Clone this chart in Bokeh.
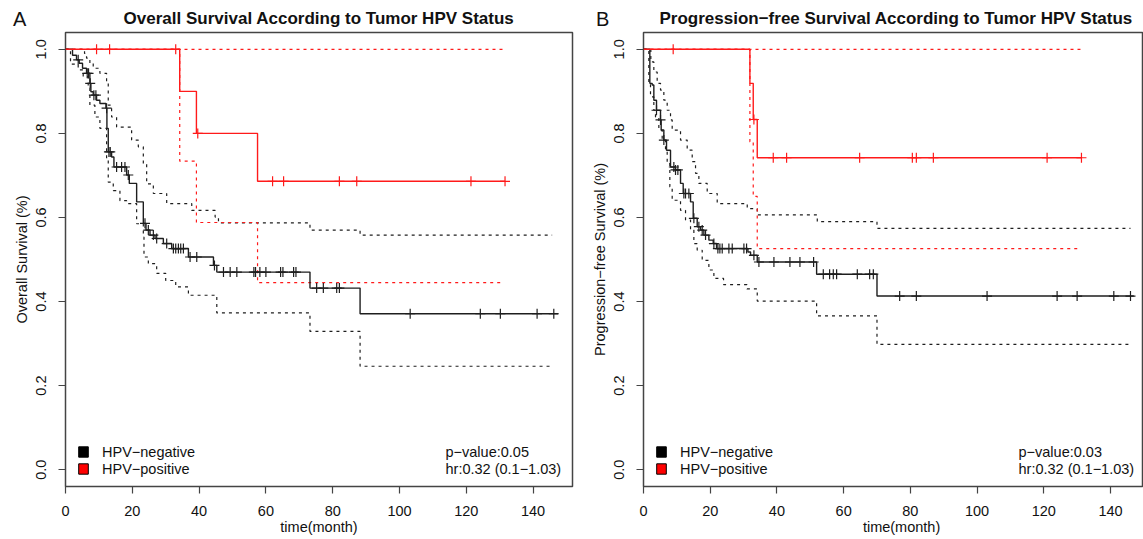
import numpy as np
from bokeh.plotting import figure
from bokeh.models import (Range1d, FixedTicker, PrintfTickFormatter, Label, Legend,
                          LegendItem, Title, Div)
from bokeh.layouts import row
from bokeh.embed import file_html
from bokeh.resources import INLINE

FONT = "Liberation Sans"

# ---------------- data: Panel A, overall survival ----------------
os_neg_time = [0, 2.1, 3.3, 4.1, 5.1, 6.3, 7.3, 7.6, 8.3, 9.3, 10.3, 12.1, 12.4, 12.8, 13.8, 14.5,
               18.3, 19.1, 21.3, 23.3, 24.1, 25.3, 26.8, 29.3, 31.8, 36.8, 44.3, 45.3, 73.2, 88.2, 147.5]
os_neg_surv = [1.0, 0.986, 0.975, 0.967, 0.955, 0.943, 0.919, 0.899, 0.891, 0.879, 0.871, 0.860, 0.812,
               0.756, 0.744, 0.720, 0.701, 0.681, 0.637, 0.586, 0.570, 0.558, 0.550, 0.538, 0.526, 0.506,
               0.486, 0.470, 0.432, 0.371, 0.371]
os_neg_censor = [3.8, 6.5, 6.9, 7.4, 8.5, 9.1, 12.3, 13.0, 13.4, 15.3, 16.8, 17.8, 18.8, 23.8, 24.8,
                 26.3, 27.3, 30.3, 32.3, 33.0, 33.8, 34.5, 35.3, 37.3, 39.3, 44.6, 47.3, 49.3, 51.3,
                 56.4, 56.9, 58.2, 60.0, 64.4, 65.1, 68.3, 69.0, 75.2, 77.2, 81.2, 82.0, 103.2, 124.2,
                 130.2, 141.2, 146.2]
os_neg_up_time = [0, 5.7, 6.3, 7.3, 8.3, 10.3, 12.3, 12.8, 13.8, 15.3, 19.8, 21.8, 23.3, 24.3, 26.3,
                  30.3, 37.8, 44.8, 45.8, 73.2, 88.2, 145.7]
os_neg_up = [1.0, 0.99, 0.979, 0.967, 0.955, 0.943, 0.919, 0.867, 0.839, 0.815, 0.784, 0.768, 0.728,
             0.680, 0.657, 0.633, 0.617, 0.601, 0.587, 0.570, 0.558, 0.558]
os_neg_lo_time = [0, 1.5, 3.8, 5.3, 6.8, 7.3, 8.8, 10.3, 12.3, 12.8, 14.3, 16.3, 18.3, 21.3, 23.3,
                  23.5, 24.8, 27.3, 30.0, 33.0, 36.8, 45.3, 73.2, 88.2, 145.7]
os_neg_lo = [1.0, 0.965, 0.951, 0.935, 0.907, 0.867, 0.839, 0.812, 0.736, 0.684, 0.664, 0.640, 0.633,
             0.585, 0.553, 0.506, 0.490, 0.467, 0.450, 0.435, 0.415, 0.373, 0.329, 0.246, 0.246]

os_pos_time = [0, 34.2, 39.2, 57.5, 131.6]
os_pos_surv = [1.0, 0.9, 0.8, 0.686, 0.686]
os_pos_censor = [9.3, 13.2, 33.0, 39.6, 62.0, 65.3, 82.0, 87.2, 121.4, 131.6]
os_pos_up_time = [0, 131.2]
os_pos_up = [1.0, 1.0]
os_pos_lo_time = [0, 34.2, 39.2, 57.5, 131.2]
os_pos_lo = [1.0, 0.734, 0.588, 0.445, 0.445]

# ---------------- data: Panel B, progression-free survival ----------------
pfs_neg_time = [0, 1.9, 2.6, 3.1, 3.9, 5.1, 5.3, 6.1, 6.9, 8.1, 9.6, 11.1, 11.9, 14.1, 14.9, 16.1,
                17.1, 18.1, 19.6, 20.9, 21.9, 31.3, 32.1, 34.1, 51.9, 70.0, 147.0]
pfs_neg_surv = [1.0, 0.919, 0.915, 0.879, 0.855, 0.832, 0.808, 0.784, 0.760, 0.720, 0.713, 0.681,
                0.657, 0.637, 0.598, 0.578, 0.570, 0.558, 0.546, 0.538, 0.526, 0.518, 0.510, 0.494,
                0.465, 0.413, 0.413]
pfs_neg_censor = [3.9, 5.1, 6.1, 9.1, 9.6, 10.3, 12.1, 12.6, 13.6, 15.1, 16.6, 17.6, 18.6, 21.1,
                  22.3, 22.9, 23.6, 25.6, 26.6, 30.1, 30.9, 33.1, 34.6, 39.1, 43.9, 46.9, 51.0, 53.9,
                  55.8, 56.9, 57.9, 64.1, 67.8, 68.9, 76.8, 81.8, 103.0, 124.0, 130.0, 141.0, 146.0]
pfs_neg_up_time = [0, 2.2, 3.1, 4.1, 5.1, 6.1, 7.1, 8.1, 8.6, 11.1, 13.1, 14.6, 15.6, 16.6, 19.1,
                   22.1, 31.1, 34.1, 52.1, 70.0, 146.0]
pfs_neg_up = [1.0, 0.970, 0.946, 0.919, 0.903, 0.879, 0.855, 0.832, 0.808, 0.784, 0.760, 0.733,
              0.705, 0.681, 0.657, 0.633, 0.621, 0.606, 0.590, 0.574, 0.574]
pfs_neg_lo_time = [0, 1.6, 2.1, 3.1, 3.6, 4.6, 5.6, 6.6, 7.1, 7.9, 8.6, 11.1, 12.6, 14.1, 15.1,
                   16.1, 17.6, 19.6, 21.1, 24.0, 31.0, 34.1, 51.9, 70.0, 146.0]
pfs_neg_lo = [1.0, 0.919, 0.887, 0.855, 0.839, 0.808, 0.784, 0.760, 0.728, 0.673, 0.641, 0.617,
              0.594, 0.570, 0.538, 0.522, 0.498, 0.475, 0.455, 0.440, 0.430, 0.401, 0.366, 0.298,
              0.298]

pfs_pos_time = [0, 31.9, 32.9, 34.1, 131.3]
pfs_pos_surv = [1.0, 0.919, 0.833, 0.742, 0.742]
pfs_pos_censor = [8.9, 33.1, 38.9, 42.9, 64.8, 80.6, 81.8, 86.9, 121.0, 131.3]
pfs_pos_up_time = [0, 131.0]
pfs_pos_up = [1.0, 1.0]
pfs_pos_lo_time = [0, 31.9, 32.9, 34.1, 131.0]
pfs_pos_lo = [1.0, 0.78, 0.65, 0.526, 0.526]

x_ticks = [0, 20, 40, 60, 80, 100, 120, 140]
y_ticks = [0.0, 0.2, 0.4, 0.6, 0.8, 1.0]
legend_labels = ["HPV\u2212negative", "HPV\u2212positive"]

BLACK = "#1e1e1e"
RED = "#ff1a1a"
TXT = "14.5px"


def step_value(times, surv, t):
    idx = np.searchsorted(np.asarray(times), np.asarray(t), side="right") - 1
    return list(np.asarray(surv)[idx])


def make_panel(title, ylabel, xlabel, pval, hr, xmax, min_left, min_right, frame_w,
               neg, pos, title_align="center", title_offset=0, stat_x=380):
    p = figure(frame_width=frame_w, frame_height=454, min_border_left=min_left,
               min_border_right=min_right, min_border_top=32, min_border_bottom=53,
               x_range=Range1d(0, xmax), y_range=Range1d(-0.04, 1.04),
               output_backend="svg", toolbar_location=None, title=None)
    p.add_layout(Title(text=title, text_font=FONT, text_font_size="17px", text_font_style="bold",
                       align=title_align, offset=title_offset, standoff=10, text_color="#111111"),
                 "above")
    p.grid.visible = False
    p.outline_line_color = "#444444"
    p.outline_line_width = 1.5
    p.background_fill_color = "white"
    p.border_fill_color = "white"

    for ax in (p.xaxis[0], p.yaxis[0]):
        ax.axis_line_color = None
        ax.major_tick_out = 7
        ax.major_tick_in = 0
        ax.minor_tick_line_color = None
        ax.major_tick_line_color = "#444444"
        ax.major_tick_line_width = 1.2
        ax.major_label_text_font = FONT
        ax.major_label_text_font_size = TXT
        ax.major_label_text_color = "#111111"
        ax.axis_label_text_font = FONT
        ax.axis_label_text_font_size = TXT
        ax.axis_label_text_font_style = "normal"
        ax.axis_label_text_color = "#111111"
    p.xaxis.ticker = FixedTicker(ticks=x_ticks)
    p.xaxis.formatter = PrintfTickFormatter(format="%d")
    p.xaxis.major_label_standoff = 12
    p.xaxis.axis_label = xlabel
    p.xaxis.axis_label_standoff = 0
    p.yaxis.ticker = FixedTicker(ticks=y_ticks)
    p.yaxis.formatter = PrintfTickFormatter(format="%.1f")
    p.yaxis.major_label_orientation = "vertical"
    p.yaxis.major_label_standoff = 12
    p.yaxis.axis_label = ylabel
    p.yaxis.axis_label_standoff = 4

    # confidence bands (dashed) then survival curves (solid)
    for grp, col in ((neg, BLACK), (pos, RED)):
        p.step(grp["up_t"], grp["up"], mode="after", line_color=col, line_dash="3 4",
               line_width=1.2)
        p.step(grp["lo_t"], grp["lo"], mode="after", line_color=col, line_dash="3 4",
               line_width=1.2)
    for grp, col in ((neg, BLACK), (pos, RED)):
        p.step(grp["t"], grp["s"], mode="after", line_color=col, line_width=1.4)
        cy = step_value(grp["t"], grp["s"], grp["c"])
        p.scatter(grp["c"], cy, marker="cross", size=10, line_color=col, line_width=1.2)

    # legend (proxy glyphs without a visible position)
    r_neg = p.quad(left=[np.nan], right=[np.nan], top=[np.nan], bottom=[np.nan],
                   fill_color="black", line_color="black")
    r_pos = p.quad(left=[np.nan], right=[np.nan], top=[np.nan], bottom=[np.nan],
                   fill_color="#ff0000", line_color="black")
    leg = Legend(items=[LegendItem(label=legend_labels[0], renderers=[r_neg]),
                        LegendItem(label=legend_labels[1], renderers=[r_pos])],
                 location=(12, 9), glyph_width=12, glyph_height=13, label_height=17, spacing=0,
                 padding=0, margin=0, label_standoff=13, border_line_color=None,
                 background_fill_alpha=0, label_text_font=FONT, label_text_font_size=TXT,
                 label_text_color="#111111")
    p.add_layout(leg, "center")

    p.add_layout(Label(x=stat_x, y=35, x_units="screen", y_units="screen", text=pval,
                       text_font=FONT, text_font_size=TXT, text_baseline="middle",
                       text_color="#111111"))
    p.add_layout(Label(x=stat_x, y=18, x_units="screen", y_units="screen", text=hr,
                       text_font=FONT, text_font_size=TXT, text_baseline="middle",
                       text_color="#111111"))
    return p


neg_a = dict(t=os_neg_time, s=os_neg_surv, c=os_neg_censor, up_t=os_neg_up_time, up=os_neg_up,
             lo_t=os_neg_lo_time, lo=os_neg_lo)
pos_a = dict(t=os_pos_time, s=os_pos_surv, c=os_pos_censor, up_t=os_pos_up_time, up=os_pos_up,
             lo_t=os_pos_lo_time, lo=os_pos_lo)
neg_b = dict(t=pfs_neg_time, s=pfs_neg_surv, c=pfs_neg_censor, up_t=pfs_neg_up_time,
             up=pfs_neg_up, lo_t=pfs_neg_lo_time, lo=pfs_neg_lo)
pos_b = dict(t=pfs_pos_time, s=pfs_pos_surv, c=pfs_pos_censor, up_t=pfs_pos_up_time,
             up=pfs_pos_up, lo_t=pfs_pos_lo_time, lo=pfs_pos_lo)

p1 = make_panel("Overall Survival According to Tumor HPV Status", "Overall Survival (%)",
                "time(month)", "p\u2212value:0.05", "hr:0.32 (0.1\u22121.03)", 151.8, 65, 10, 507,
                neg_a, pos_a, stat_x=380)
# the reference's right panel is wider than the window, so its x label sits a little right
p2 = make_panel("Progression\u2212free Survival According to Tumor HPV Status",
                "Progression\u2212free Survival (%)", "\u00a0\u00a0\u00a0\u00a0time(month)",
                "p\u2212value:0.03", "hr:0.32 (0.1\u22121.03)", 149.9, 61, 0, 500, neg_b, pos_b,
                title_align="left", title_offset=16, stat_x=375)

# panel letters, laid over the top-left corner of each panel
letters = []
for letter, left in (("A", 13), ("B", 596)):
    letters.append(Div(text=letter, styles={
        "position": "absolute", "left": f"{left}px", "top": "7px", "margin": "0",
        "padding": "0", "font-family": FONT, "font-size": "20px", "line-height": "24px",
        "color": "#111111", "z-index": "10"}))

layout = row(p1, p2, *letters)
open("out.html", "w").write(file_html(layout, INLINE))
